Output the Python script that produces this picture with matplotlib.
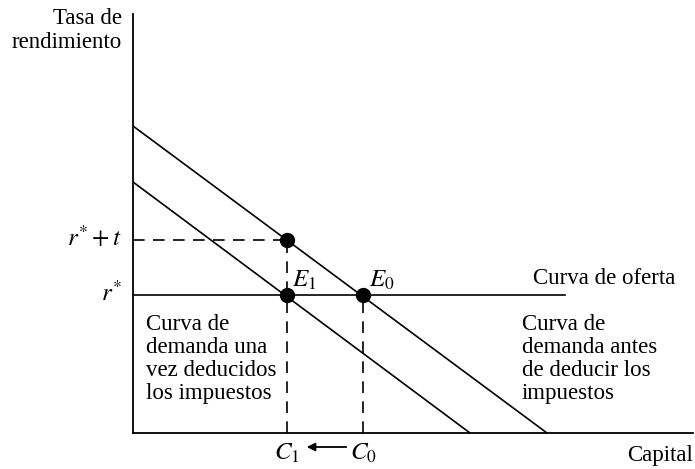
import numpy as np
import matplotlib
matplotlib.use('Agg')
import matplotlib.pyplot as plt

plt.rcParams['font.family'] = ['Liberation Serif', 'DejaVu Serif']
plt.rcParams['mathtext.fontset'] = 'stix'

# valores (unidades arbitrarias)
r_star = 138
r_star_t = 193
C1 = 154
C0 = 230
oferta_fin = 432
dem_antes = [307, 414]     # corte eje y, corte eje x
dem_despues = [251, 337]

fig = plt.figure(figsize=(6.95, 4.69), dpi=100)
ax = fig.add_axes([133 / 695, 36 / 469, 560 / 695, 419 / 469])
ax.set_xlim(0, 560)
ax.set_ylim(0, 419)
for s in ['top', 'right']:
    ax.spines[s].set_visible(False)
for s in ['left', 'bottom']:
    ax.spines[s].set_linewidth(1.3)
ax.set_xticks([])
ax.set_yticks([])

lw = 1.2
# curvas de demanda
ax.plot([0, dem_antes[1]], [dem_antes[0], 0], color='black', lw=lw)
ax.plot([0, dem_despues[1]], [dem_despues[0], 0], color='black', lw=lw)
# curva de oferta
ax.plot([0, oferta_fin], [r_star, r_star], color='black', lw=lw)

# lineas discontinuas
ds = (0, (7, 5))
ax.plot([0, C1], [r_star_t, r_star_t], color='black', lw=lw, linestyle=ds)
ax.plot([C1, C1], [0, r_star_t], color='black', lw=lw, linestyle=ds)
ax.plot([C0, C0], [0, r_star], color='black', lw=lw, linestyle=ds)

# puntos de equilibrio
ax.plot([C1, C1, C0], [r_star_t, r_star, r_star], 'o', color='black', ms=10)

fs = 16.5
fm = 18
ax.text(C1 + 5, r_star + 3, r'$E_1$', fontsize=fm, ha='left', va='bottom')
ax.text(C0 + 6, r_star + 3, r'$E_0$', fontsize=fm, ha='left', va='bottom')
ax.text(-11, r_star_t + 2, r'$r^{*}+t$', fontsize=fm, ha='right', va='center')
ax.text(-11, r_star + 2, r'$r^{*}$', fontsize=fm, ha='right', va='center')
ax.text(C1, -9, r'$C_1$', fontsize=fm, ha='center', va='top')
ax.text(C0, -9, r'$C_0$', fontsize=fm, ha='center', va='top')
ax.annotate('', xy=(C1 + 17, -14), xytext=(C0 - 14, -14),
            arrowprops=dict(arrowstyle='-|>', color='black', lw=1.3,
                            mutation_scale=12), annotation_clip=False)

ax.text(400, r_star + 16, 'Curva de oferta', fontsize=fs, ha='left', va='center')
ax.text(13, r_star - 19, 'Curva de\ndemanda una\nvez deducidos\nlos impuestos',
        fontsize=fs, ha='left', va='top', linespacing=1.13)
ax.text(389, r_star - 19, 'Curva de\ndemanda antes\nde deducir los\nimpuestos',
        fontsize=fs, ha='left', va='top', linespacing=1.13)
ax.text(-11, 425, 'Tasa de\nrendimiento', fontsize=fs, ha='right', va='top',
        linespacing=1.2)
ax.text(560, -12, 'Capital', fontsize=fs, ha='right', va='top')

fig.savefig('out.png', dpi=100)
